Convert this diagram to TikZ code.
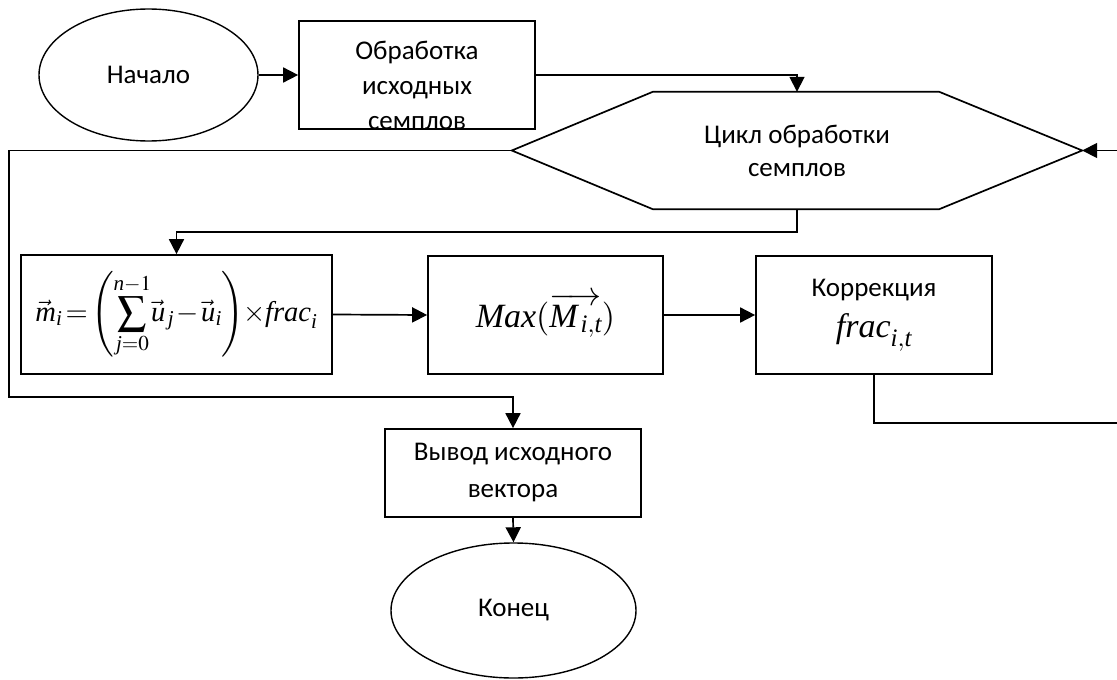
\documentclass[tikz,border=0pt]{standalone}
\usepackage{amsmath}
\usepackage{mathptmx}
\usepackage{graphicx}
\usepackage{fontspec}
\newfontfamily\lblfamily{Carlito}
\newfontfamily\tmsfamily{Liberation Serif}
\newcommand{\ti}[1]{\text{\tmsfamily\itshape #1}}
\usetikzlibrary{arrows.meta,shapes.geometric,calc}
\tikzset{
  conn/.style={line width=1.7pt, line join=miter},
  arr/.style={conn, -{Triangle[length=15pt,width=15pt]}},
  boxnode/.style={draw, line width=1.7pt, rectangle, inner sep=0pt, align=center},
  ovalnode/.style={draw, line width=1.4pt, ellipse, inner sep=0pt},
  lbl/.style={font=\lblfamily\fontsize{27}{34}\selectfont, align=center},
}
\newcommand{\mathbig}{\fontsize{34}{40}\selectfont}
\begin{document}
\begin{tikzpicture}[x=1pt,y=-1pt]
\useasboundingbox (0,0) rectangle (1117,680);
\clip (0,0) rectangle (1117,680);
\fill[white] (0,0) rectangle (1117,680);

% nodes
\node[ovalnode, lbl, minimum width=219, minimum height=132] (start) at (148.5,75) {Начало};
\node[boxnode, minimum width=236, minimum height=108,
  path picture={\node[lbl, font=\lblfamily\fontsize{27}{35}\selectfont] at ([yshift=-10pt]path picture bounding box.center) {Обработка\\исходных\\семплов};}] (proc1) at (417,75) {};
\node[lbl, font=\lblfamily\fontsize{27}{33}\selectfont, minimum width=570, minimum height=117, inner sep=0pt] (loop) at (797,150.5) {Цикл обработки\\семплов};
\draw[conn] (loop.west) -- ($(loop.north west)+(141,0)$) -- ($(loop.north east)+(-143,0)$) -- (loop.east)
  -- ($(loop.south east)+(-143,0)$) -- ($(loop.south west)+(141,0)$) -- cycle;
\node[boxnode, minimum width=311, minimum height=119] (f1) at (176.5,314.5)
  {\resizebox{282pt}{!}{\fontsize{28}{34}\selectfont\thickmuskip=2mu\medmuskip=1.5mu\nulldelimiterspace=0pt
   $\displaystyle \vec{\ti{m}}_{\ti{i}}=\left(\sum_{\ti{j}=0}^{\ti{n}-1}\!\vec{\ti{u}}_{\,\ti{j}}-\vec{\ti{u}}_{\ti{i}}\right)\!\times\!\ti{frac}_{\ti{i}}$}};
\node[boxnode, minimum width=235, minimum height=118] (mx) at (545.5,315)
  {\mathbig $\ti{Max}(\overrightarrow{\ti{M}_{\,\ti{i},\ti{t}}})$};
\node[boxnode, minimum width=236, minimum height=118] (corr) at (874,315)
  {{\lblfamily\fontsize{27}{34}\selectfont Коррекция}\\[12pt]{\mathbig $\ti{frac}_{\ti{i},\ti{t}}$}};
\node[boxnode, lbl, font=\lblfamily\fontsize{27}{37}\selectfont, minimum width=256, minimum height=88] (out) at (513,473) {Вывод исходного\\вектора};
\node[ovalnode, lbl, minimum width=245, minimum height=135] (end) at (513.5,610.5) {Конец};

\coordinate (rtop) at (1125,150.5);
\coordinate (rbot) at (1125,423);
\coordinate (lft) at (9,150.5);
\coordinate (lbot) at (9,397);

% connectors
\draw[arr] (start.east) -- (proc1.west);
\draw[arr] (proc1.east) -| (loop.north);
\draw[arr] (loop.south) -- ++(0,23) -| (f1.north);
\draw[arr] (f1.east) -- (mx.west);
\draw[arr] (mx.east) -- (corr.west);
\draw[arr] (corr.south) |- (rbot) -- (rtop) -- (loop.east);
\draw[arr] (loop.west) -- (lft) -- (lbot) -| (out.north);
\draw[arr] (out.south) -- (end.north);
\end{tikzpicture}
\end{document}
